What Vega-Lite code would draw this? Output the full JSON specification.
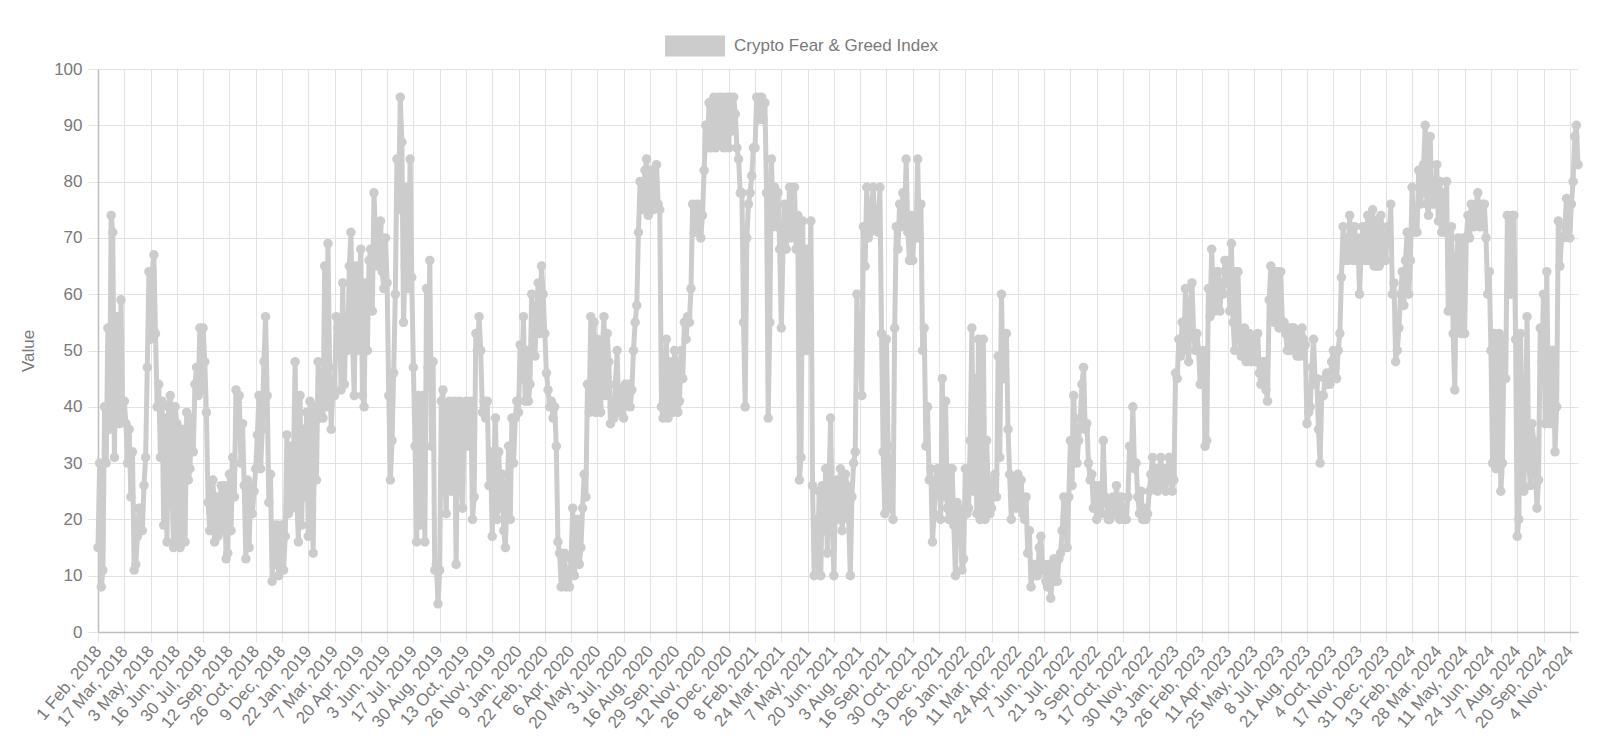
{"$schema":"https://vega.github.io/schema/vega-lite/v6.json","width":1480,"height":563,"autosize":{"type":"none"},"padding":{"left":98,"top":69,"right":21,"bottom":111},"background":"white","config":{"font":"Liberation Sans","view":{"stroke":null}},
"data":{"values":[
{"n":0,"v":15},{"n":1,"v":30},{"n":2,"v":8},{"n":3,"v":11},{"n":4,"v":40},{"n":5,"v":30},{"n":6,"v":54},{"n":7,"v":36},{"n":8,"v":74},{"n":9,"v":71},{"n":10,"v":31},{"n":11,"v":55},{"n":12,"v":56},{"n":13,"v":37},{"n":14,"v":59},{"n":15,"v":38},
{"n":16,"v":41},{"n":17,"v":37},{"n":18,"v":30},{"n":19,"v":36},{"n":20,"v":24},{"n":21,"v":32},{"n":22,"v":11},{"n":23,"v":12},{"n":24,"v":17},{"n":25,"v":22},{"n":26,"v":22},{"n":27,"v":18},{"n":28,"v":26},{"n":29,"v":31},{"n":30,"v":47},{"n":31,"v":64},
{"n":32,"v":52},{"n":33,"v":64},{"n":34,"v":67},{"n":35,"v":53},{"n":36,"v":40},{"n":37,"v":44},{"n":38,"v":31},{"n":39,"v":41},{"n":40,"v":19},{"n":41,"v":38},{"n":42,"v":16},{"n":43,"v":40},{"n":44,"v":42},{"n":45,"v":26},{"n":46,"v":15},{"n":47,"v":40},
{"n":48,"v":37},{"n":49,"v":16},{"n":50,"v":15},{"n":51,"v":36},{"n":52,"v":28},{"n":53,"v":16},{"n":54,"v":39},{"n":55,"v":27},{"n":56,"v":29},{"n":57,"v":38},{"n":58,"v":32},{"n":59,"v":44},{"n":60,"v":47},{"n":61,"v":42},{"n":62,"v":54},{"n":63,"v":43},
{"n":64,"v":54},{"n":65,"v":48},{"n":66,"v":39},{"n":67,"v":23},{"n":68,"v":18},{"n":69,"v":25},{"n":70,"v":27},{"n":71,"v":16},{"n":72,"v":24},{"n":73,"v":17},{"n":74,"v":22},{"n":75,"v":26},{"n":76,"v":18},{"n":77,"v":26},{"n":78,"v":13},{"n":79,"v":14},
{"n":80,"v":28},{"n":81,"v":18},{"n":82,"v":31},{"n":83,"v":24},{"n":84,"v":43},{"n":85,"v":35},{"n":86,"v":42},{"n":87,"v":30},{"n":88,"v":37},{"n":89,"v":26},{"n":90,"v":13},{"n":91,"v":27},{"n":92,"v":15},{"n":93,"v":26},{"n":94,"v":21},{"n":95,"v":25},
{"n":96,"v":29},{"n":97,"v":35},{"n":98,"v":42},{"n":99,"v":29},{"n":100,"v":36},{"n":101,"v":48},{"n":102,"v":56},{"n":103,"v":42},{"n":104,"v":23},{"n":105,"v":28},{"n":106,"v":9},{"n":107,"v":19},{"n":108,"v":12},{"n":109,"v":19},{"n":110,"v":10},{"n":111,"v":18},
{"n":112,"v":19},{"n":113,"v":11},{"n":114,"v":17},{"n":115,"v":35},{"n":116,"v":21},{"n":117,"v":33},{"n":118,"v":22},{"n":119,"v":30},{"n":120,"v":48},{"n":121,"v":24},{"n":122,"v":16},{"n":123,"v":42},{"n":124,"v":19},{"n":125,"v":36},{"n":126,"v":24},{"n":127,"v":39},
{"n":128,"v":17},{"n":129,"v":41},{"n":130,"v":30},{"n":131,"v":14},{"n":132,"v":40},{"n":133,"v":27},{"n":134,"v":48},{"n":135,"v":38},{"n":136,"v":46},{"n":137,"v":38},{"n":138,"v":65},{"n":139,"v":40},{"n":140,"v":69},{"n":141,"v":47},{"n":142,"v":36},{"n":143,"v":44},
{"n":144,"v":42},{"n":145,"v":56},{"n":146,"v":54},{"n":147,"v":55},{"n":148,"v":43},{"n":149,"v":62},{"n":150,"v":44},{"n":151,"v":56},{"n":152,"v":50},{"n":153,"v":65},{"n":154,"v":71},{"n":155,"v":51},{"n":156,"v":42},{"n":157,"v":65},{"n":158,"v":50},{"n":159,"v":62},
{"n":160,"v":68},{"n":161,"v":42},{"n":162,"v":40},{"n":163,"v":62},{"n":164,"v":50},{"n":165,"v":66},{"n":166,"v":68},{"n":167,"v":57},{"n":168,"v":78},{"n":169,"v":70},{"n":170,"v":65},{"n":171,"v":72},{"n":172,"v":73},{"n":173,"v":64},{"n":174,"v":61},{"n":175,"v":70},
{"n":176,"v":62},{"n":177,"v":42},{"n":178,"v":27},{"n":179,"v":34},{"n":180,"v":46},{"n":181,"v":60},{"n":182,"v":84},{"n":183,"v":75},{"n":184,"v":95},{"n":185,"v":87},{"n":186,"v":55},{"n":187,"v":65},{"n":188,"v":79},{"n":189,"v":61},{"n":190,"v":84},{"n":191,"v":63},
{"n":192,"v":47},{"n":193,"v":33},{"n":194,"v":16},{"n":195,"v":42},{"n":196,"v":19},{"n":197,"v":22},{"n":198,"v":42},{"n":199,"v":16},{"n":200,"v":61},{"n":201,"v":47},{"n":202,"v":66},{"n":203,"v":33},{"n":204,"v":48},{"n":205,"v":11},{"n":206,"v":12},{"n":207,"v":5},
{"n":208,"v":11},{"n":209,"v":41},{"n":210,"v":43},{"n":211,"v":28},{"n":212,"v":21},{"n":213,"v":40},{"n":214,"v":41},{"n":215,"v":25},{"n":216,"v":30},{"n":217,"v":41},{"n":218,"v":12},{"n":219,"v":36},{"n":220,"v":41},{"n":221,"v":27},{"n":222,"v":22},{"n":223,"v":40},
{"n":224,"v":41},{"n":225,"v":33},{"n":226,"v":35},{"n":227,"v":41},{"n":228,"v":20},{"n":229,"v":24},{"n":230,"v":53},{"n":231,"v":50},{"n":232,"v":56},{"n":233,"v":50},{"n":234,"v":39},{"n":235,"v":41},{"n":236,"v":38},{"n":237,"v":41},{"n":238,"v":26},{"n":239,"v":32},
{"n":240,"v":17},{"n":241,"v":30},{"n":242,"v":38},{"n":243,"v":20},{"n":244,"v":32},{"n":245,"v":22},{"n":246,"v":28},{"n":247,"v":18},{"n":248,"v":15},{"n":249,"v":25},{"n":250,"v":33},{"n":251,"v":20},{"n":252,"v":38},{"n":253,"v":30},{"n":254,"v":38},{"n":255,"v":41},
{"n":256,"v":39},{"n":257,"v":51},{"n":258,"v":45},{"n":259,"v":56},{"n":260,"v":41},{"n":261,"v":50},{"n":262,"v":41},{"n":263,"v":44},{"n":264,"v":60},{"n":265,"v":52},{"n":266,"v":49},{"n":267,"v":57},{"n":268,"v":62},{"n":269,"v":53},{"n":270,"v":65},{"n":271,"v":60},
{"n":272,"v":53},{"n":273,"v":46},{"n":274,"v":43},{"n":275,"v":40},{"n":276,"v":41},{"n":277,"v":38},{"n":278,"v":40},{"n":279,"v":33},{"n":280,"v":16},{"n":281,"v":14},{"n":282,"v":8},{"n":283,"v":13},{"n":284,"v":14},{"n":285,"v":8},{"n":286,"v":11},{"n":287,"v":8},
{"n":288,"v":13},{"n":289,"v":22},{"n":290,"v":10},{"n":291,"v":14},{"n":292,"v":20},{"n":293,"v":12},{"n":294,"v":15},{"n":295,"v":22},{"n":296,"v":28},{"n":297,"v":24},{"n":298,"v":44},{"n":299,"v":39},{"n":300,"v":56},{"n":301,"v":40},{"n":302,"v":55},{"n":303,"v":39},
{"n":304,"v":52},{"n":305,"v":40},{"n":306,"v":39},{"n":307,"v":50},{"n":308,"v":56},{"n":309,"v":42},{"n":310,"v":53},{"n":311,"v":48},{"n":312,"v":37},{"n":313,"v":40},{"n":314,"v":38},{"n":315,"v":44},{"n":316,"v":50},{"n":317,"v":39},{"n":318,"v":43},{"n":319,"v":40},
{"n":320,"v":38},{"n":321,"v":44},{"n":322,"v":41},{"n":323,"v":44},{"n":324,"v":40},{"n":325,"v":43},{"n":326,"v":50},{"n":327,"v":55},{"n":328,"v":58},{"n":329,"v":71},{"n":330,"v":80},{"n":331,"v":75},{"n":332,"v":76},{"n":333,"v":82},{"n":334,"v":84},{"n":335,"v":74},
{"n":336,"v":78},{"n":337,"v":82},{"n":338,"v":75},{"n":339,"v":80},{"n":340,"v":83},{"n":341,"v":76},{"n":342,"v":75},{"n":343,"v":40},{"n":344,"v":38},{"n":345,"v":41},{"n":346,"v":52},{"n":347,"v":38},{"n":348,"v":48},{"n":349,"v":40},{"n":350,"v":39},{"n":351,"v":50},
{"n":352,"v":48},{"n":353,"v":39},{"n":354,"v":41},{"n":355,"v":50},{"n":356,"v":45},{"n":357,"v":55},{"n":358,"v":52},{"n":359,"v":56},{"n":360,"v":55},{"n":361,"v":61},{"n":362,"v":76},{"n":363,"v":71},{"n":364,"v":72},{"n":365,"v":76},{"n":366,"v":75},{"n":367,"v":70},
{"n":368,"v":74},{"n":369,"v":82},{"n":370,"v":90},{"n":371,"v":86},{"n":372,"v":94},{"n":373,"v":86},{"n":374,"v":88},{"n":375,"v":95},{"n":376,"v":86},{"n":377,"v":90},{"n":378,"v":95},{"n":379,"v":87},{"n":380,"v":95},{"n":381,"v":86},{"n":382,"v":88},{"n":383,"v":95},
{"n":384,"v":86},{"n":385,"v":95},{"n":386,"v":89},{"n":387,"v":95},{"n":388,"v":92},{"n":389,"v":86},{"n":390,"v":84},{"n":391,"v":78},{"n":392,"v":78},{"n":393,"v":55},{"n":394,"v":40},{"n":395,"v":70},{"n":396,"v":76},{"n":397,"v":78},{"n":398,"v":81},{"n":399,"v":86},
{"n":400,"v":86},{"n":401,"v":95},{"n":402,"v":91},{"n":403,"v":95},{"n":404,"v":95},{"n":405,"v":91},{"n":406,"v":94},{"n":407,"v":78},{"n":408,"v":38},{"n":409,"v":55},{"n":410,"v":84},{"n":411,"v":72},{"n":412,"v":79},{"n":413,"v":72},{"n":414,"v":78},{"n":415,"v":68},
{"n":416,"v":54},{"n":417,"v":68},{"n":418,"v":76},{"n":419,"v":68},{"n":420,"v":72},{"n":421,"v":79},{"n":422,"v":70},{"n":423,"v":74},{"n":424,"v":79},{"n":425,"v":68},{"n":426,"v":74},{"n":427,"v":27},{"n":428,"v":31},{"n":429,"v":73},{"n":430,"v":50},{"n":431,"v":68},
{"n":432,"v":50},{"n":433,"v":61},{"n":434,"v":73},{"n":435,"v":26},{"n":436,"v":10},{"n":437,"v":20},{"n":438,"v":11},{"n":439,"v":25},{"n":440,"v":10},{"n":441,"v":26},{"n":442,"v":18},{"n":443,"v":29},{"n":444,"v":14},{"n":445,"v":26},{"n":446,"v":38},{"n":447,"v":20},
{"n":448,"v":10},{"n":449,"v":25},{"n":450,"v":27},{"n":451,"v":20},{"n":452,"v":29},{"n":453,"v":18},{"n":454,"v":22},{"n":455,"v":28},{"n":456,"v":26},{"n":457,"v":20},{"n":458,"v":10},{"n":459,"v":24},{"n":460,"v":30},{"n":461,"v":32},{"n":462,"v":60},{"n":463,"v":50},
{"n":464,"v":50},{"n":465,"v":42},{"n":466,"v":72},{"n":467,"v":65},{"n":468,"v":79},{"n":469,"v":70},{"n":470,"v":71},{"n":471,"v":76},{"n":472,"v":79},{"n":473,"v":72},{"n":474,"v":75},{"n":475,"v":71},{"n":476,"v":79},{"n":477,"v":53},{"n":478,"v":32},{"n":479,"v":21},
{"n":480,"v":52},{"n":481,"v":33},{"n":482,"v":22},{"n":483,"v":30},{"n":484,"v":20},{"n":485,"v":54},{"n":486,"v":72},{"n":487,"v":68},{"n":488,"v":76},{"n":489,"v":72},{"n":490,"v":78},{"n":491,"v":73},{"n":492,"v":84},{"n":493,"v":71},{"n":494,"v":66},{"n":495,"v":74},
{"n":496,"v":66},{"n":497,"v":72},{"n":498,"v":70},{"n":499,"v":84},{"n":500,"v":70},{"n":501,"v":76},{"n":502,"v":50},{"n":503,"v":54},{"n":504,"v":33},{"n":505,"v":40},{"n":506,"v":27},{"n":507,"v":29},{"n":508,"v":16},{"n":509,"v":21},{"n":510,"v":27},{"n":511,"v":29},
{"n":512,"v":29},{"n":513,"v":20},{"n":514,"v":45},{"n":515,"v":24},{"n":516,"v":41},{"n":517,"v":22},{"n":518,"v":20},{"n":519,"v":29},{"n":520,"v":29},{"n":521,"v":19},{"n":522,"v":10},{"n":523,"v":23},{"n":524,"v":22},{"n":525,"v":20},{"n":526,"v":11},{"n":527,"v":13},
{"n":528,"v":29},{"n":529,"v":21},{"n":530,"v":22},{"n":531,"v":34},{"n":532,"v":54},{"n":533,"v":25},{"n":534,"v":45},{"n":535,"v":21},{"n":536,"v":52},{"n":537,"v":20},{"n":538,"v":25},{"n":539,"v":52},{"n":540,"v":20},{"n":541,"v":34},{"n":542,"v":25},{"n":543,"v":21},
{"n":544,"v":22},{"n":545,"v":27},{"n":546,"v":28},{"n":547,"v":24},{"n":548,"v":49},{"n":549,"v":31},{"n":550,"v":60},{"n":551,"v":45},{"n":552,"v":50},{"n":553,"v":53},{"n":554,"v":36},{"n":555,"v":28},{"n":556,"v":20},{"n":557,"v":25},{"n":558,"v":27},{"n":559,"v":22},
{"n":560,"v":28},{"n":561,"v":23},{"n":562,"v":27},{"n":563,"v":21},{"n":564,"v":20},{"n":565,"v":24},{"n":566,"v":14},{"n":567,"v":18},{"n":568,"v":8},{"n":569,"v":12},{"n":570,"v":12},{"n":571,"v":10},{"n":572,"v":10},{"n":573,"v":15},{"n":574,"v":17},{"n":575,"v":11},
{"n":576,"v":12},{"n":577,"v":9},{"n":578,"v":8},{"n":579,"v":12},{"n":580,"v":6},{"n":581,"v":10},{"n":582,"v":13},{"n":583,"v":9},{"n":584,"v":9},{"n":585,"v":13},{"n":586,"v":14},{"n":587,"v":18},{"n":588,"v":24},{"n":589,"v":20},{"n":590,"v":15},{"n":591,"v":24},
{"n":592,"v":34},{"n":593,"v":26},{"n":594,"v":42},{"n":595,"v":33},{"n":596,"v":30},{"n":597,"v":34},{"n":598,"v":38},{"n":599,"v":44},{"n":600,"v":47},{"n":601,"v":36},{"n":602,"v":37},{"n":603,"v":30},{"n":604,"v":27},{"n":605,"v":28},{"n":606,"v":22},{"n":607,"v":26},
{"n":608,"v":20},{"n":609,"v":24},{"n":610,"v":26},{"n":611,"v":21},{"n":612,"v":34},{"n":613,"v":24},{"n":614,"v":23},{"n":615,"v":20},{"n":616,"v":20},{"n":617,"v":22},{"n":618,"v":24},{"n":619,"v":21},{"n":620,"v":26},{"n":621,"v":22},{"n":622,"v":20},{"n":623,"v":24},
{"n":624,"v":22},{"n":625,"v":20},{"n":626,"v":20},{"n":627,"v":24},{"n":628,"v":33},{"n":629,"v":30},{"n":630,"v":40},{"n":631,"v":29},{"n":632,"v":30},{"n":633,"v":24},{"n":634,"v":21},{"n":635,"v":25},{"n":636,"v":20},{"n":637,"v":22},{"n":638,"v":20},{"n":639,"v":21},
{"n":640,"v":25},{"n":641,"v":28},{"n":642,"v":31},{"n":643,"v":26},{"n":644,"v":29},{"n":645,"v":25},{"n":646,"v":28},{"n":647,"v":31},{"n":648,"v":26},{"n":649,"v":29},{"n":650,"v":25},{"n":651,"v":27},{"n":652,"v":31},{"n":653,"v":28},{"n":654,"v":25},{"n":655,"v":27},
{"n":656,"v":46},{"n":657,"v":45},{"n":658,"v":52},{"n":659,"v":49},{"n":660,"v":55},{"n":661,"v":50},{"n":662,"v":61},{"n":663,"v":52},{"n":664,"v":48},{"n":665,"v":58},{"n":666,"v":62},{"n":667,"v":53},{"n":668,"v":50},{"n":669,"v":53},{"n":670,"v":50},{"n":671,"v":44},
{"n":672,"v":48},{"n":673,"v":50},{"n":674,"v":33},{"n":675,"v":34},{"n":676,"v":61},{"n":677,"v":56},{"n":678,"v":68},{"n":679,"v":59},{"n":680,"v":57},{"n":681,"v":64},{"n":682,"v":64},{"n":683,"v":57},{"n":684,"v":62},{"n":685,"v":60},{"n":686,"v":66},{"n":687,"v":62},
{"n":688,"v":66},{"n":689,"v":57},{"n":690,"v":69},{"n":691,"v":55},{"n":692,"v":50},{"n":693,"v":64},{"n":694,"v":64},{"n":695,"v":52},{"n":696,"v":49},{"n":697,"v":53},{"n":698,"v":54},{"n":699,"v":48},{"n":700,"v":50},{"n":701,"v":53},{"n":702,"v":48},{"n":703,"v":52},
{"n":704,"v":52},{"n":705,"v":48},{"n":706,"v":53},{"n":707,"v":46},{"n":708,"v":44},{"n":709,"v":48},{"n":710,"v":48},{"n":711,"v":43},{"n":712,"v":41},{"n":713,"v":59},{"n":714,"v":65},{"n":715,"v":56},{"n":716,"v":55},{"n":717,"v":64},{"n":718,"v":64},{"n":719,"v":54},
{"n":720,"v":64},{"n":721,"v":55},{"n":722,"v":55},{"n":723,"v":53},{"n":724,"v":50},{"n":725,"v":54},{"n":726,"v":50},{"n":727,"v":54},{"n":728,"v":54},{"n":729,"v":50},{"n":730,"v":49},{"n":731,"v":53},{"n":732,"v":49},{"n":733,"v":54},{"n":734,"v":52},{"n":735,"v":51},
{"n":736,"v":37},{"n":737,"v":39},{"n":738,"v":40},{"n":739,"v":47},{"n":740,"v":52},{"n":741,"v":44},{"n":742,"v":45},{"n":743,"v":36},{"n":744,"v":30},{"n":745,"v":42},{"n":746,"v":42},{"n":747,"v":45},{"n":748,"v":46},{"n":749,"v":44},{"n":750,"v":44},{"n":751,"v":48},
{"n":752,"v":50},{"n":753,"v":47},{"n":754,"v":45},{"n":755,"v":50},{"n":756,"v":53},{"n":757,"v":63},{"n":758,"v":72},{"n":759,"v":66},{"n":760,"v":70},{"n":761,"v":66},{"n":762,"v":74},{"n":763,"v":67},{"n":764,"v":66},{"n":765,"v":72},{"n":766,"v":66},{"n":767,"v":70},
{"n":768,"v":60},{"n":769,"v":68},{"n":770,"v":72},{"n":771,"v":66},{"n":772,"v":66},{"n":773,"v":74},{"n":774,"v":66},{"n":775,"v":70},{"n":776,"v":75},{"n":777,"v":65},{"n":778,"v":73},{"n":779,"v":65},{"n":780,"v":65},{"n":781,"v":74},{"n":782,"v":70},{"n":783,"v":66},
{"n":784,"v":66},{"n":785,"v":72},{"n":786,"v":70},{"n":787,"v":76},{"n":788,"v":60},{"n":789,"v":62},{"n":790,"v":48},{"n":791,"v":50},{"n":792,"v":54},{"n":793,"v":60},{"n":794,"v":64},{"n":795,"v":58},{"n":796,"v":66},{"n":797,"v":71},{"n":798,"v":60},{"n":799,"v":66},
{"n":800,"v":79},{"n":801,"v":71},{"n":802,"v":74},{"n":803,"v":71},{"n":804,"v":82},{"n":805,"v":76},{"n":806,"v":78},{"n":807,"v":83},{"n":808,"v":90},{"n":809,"v":76},{"n":810,"v":74},{"n":811,"v":88},{"n":812,"v":76},{"n":813,"v":80},{"n":814,"v":76},{"n":815,"v":83},
{"n":816,"v":73},{"n":817,"v":80},{"n":818,"v":71},{"n":819,"v":78},{"n":820,"v":71},{"n":821,"v":80},{"n":822,"v":57},{"n":823,"v":65},{"n":824,"v":72},{"n":825,"v":53},{"n":826,"v":43},{"n":827,"v":66},{"n":828,"v":70},{"n":829,"v":55},{"n":830,"v":53},{"n":831,"v":70},
{"n":832,"v":53},{"n":833,"v":70},{"n":834,"v":74},{"n":835,"v":70},{"n":836,"v":76},{"n":837,"v":72},{"n":838,"v":72},{"n":839,"v":76},{"n":840,"v":78},{"n":841,"v":72},{"n":842,"v":72},{"n":843,"v":76},{"n":844,"v":76},{"n":845,"v":70},{"n":846,"v":60},{"n":847,"v":64},
{"n":848,"v":50},{"n":849,"v":30},{"n":850,"v":53},{"n":851,"v":29},{"n":852,"v":30},{"n":853,"v":53},{"n":854,"v":25},{"n":855,"v":30},{"n":856,"v":52},{"n":857,"v":45},{"n":858,"v":74},{"n":859,"v":60},{"n":860,"v":60},{"n":861,"v":74},{"n":862,"v":74},{"n":863,"v":52},
{"n":864,"v":17},{"n":865,"v":20},{"n":866,"v":53},{"n":867,"v":30},{"n":868,"v":25},{"n":869,"v":39},{"n":870,"v":56},{"n":871,"v":30},{"n":872,"v":26},{"n":873,"v":37},{"n":874,"v":34},{"n":875,"v":29},{"n":876,"v":22},{"n":877,"v":27},{"n":878,"v":54},{"n":879,"v":48},
{"n":880,"v":60},{"n":881,"v":37},{"n":882,"v":64},{"n":883,"v":40},{"n":884,"v":37},{"n":885,"v":50},{"n":886,"v":50},{"n":887,"v":32},{"n":888,"v":40},{"n":889,"v":73},{"n":890,"v":65},{"n":891,"v":70},{"n":892,"v":70},{"n":893,"v":72},{"n":894,"v":77},{"n":895,"v":72},
{"n":896,"v":70},{"n":897,"v":76},{"n":898,"v":80},{"n":899,"v":88},{"n":900,"v":90},{"n":901,"v":83}
]},
"encoding":{"x":{"field":"n","type":"quantitative","scale":{"domain":[0,901],"nice":false,"zero":false},"axis":{"title":null,"values":[0,16,32,48,64,80,96,112,128,144,160,176,192,208,224,240,256,272,288,304,320,336,352,368,384,400,416,432,448,464,480,496,512,528,544,560,576,592,608,624,640,656,672,688,704,720,736,752,768,784,800,816,832,848,864,880,896],"labelExpr":"['1 Feb, 2018','17 Mar, 2018','3 May, 2018','16 Jun, 2018','30 Jul, 2018','12 Sep, 2018','26 Oct, 2018','9 Dec, 2018','22 Jan, 2019','7 Mar, 2019','20 Apr, 2019','3 Jun, 2019','17 Jul, 2019','30 Aug, 2019','13 Oct, 2019','26 Nov, 2019','9 Jan, 2020','22 Feb, 2020','6 Apr, 2020','20 May, 2020','3 Jul, 2020','16 Aug, 2020','29 Sep, 2020','12 Nov, 2020','26 Dec, 2020','8 Feb, 2021','24 Mar, 2021','7 May, 2021','20 Jun, 2021','3 Aug, 2021','16 Sep, 2021','30 Oct, 2021','13 Dec, 2021','26 Jan, 2022','11 Mar, 2022','24 Apr, 2022','7 Jun, 2022','21 Jul, 2022','3 Sep, 2022','17 Oct, 2022','30 Nov, 2022','13 Jan, 2023','26 Feb, 2023','11 Apr, 2023','25 May, 2023','8 Jul, 2023','21 Aug, 2023','4 Oct, 2023','17 Nov, 2023','31 Dec, 2023','13 Feb, 2024','28 Mar, 2024','11 May, 2024','24 Jun, 2024','7 Aug, 2024','20 Sep, 2024','4 Nov, 2024'][round(datum.value/16)]","labelAngle":-50,"labelAlign":"right","labelBaseline":"middle","labelFontSize":17,"labelColor":"#7a7a7a","labelOverlap":false,"labelPadding":6,"labelBound":false,"labelFlush":false,"tickSize":10,"tickColor":"#e5e5e5","gridColor":"#e2e2e2","domainColor":"#bdbdbd","domainWidth":1.5}},
"y":{"field":"v","type":"quantitative","scale":{"domain":[0,100],"nice":false},"axis":{"title":"Value","titleFontSize":17,"titleFontWeight":"normal","titleColor":"#7a7a7a","titlePadding":16,"values":[0,10,20,30,40,50,60,70,80,90,100],"labelFontSize":17,"labelColor":"#7a7a7a","labelPadding":6,"tickSize":10,"tickColor":"#e5e5e5","gridColor":"#e2e2e2","domainColor":"#bdbdbd","domainWidth":1.5}}},
"layer":[
{"mark":{"type":"line","color":"#cccccc","strokeWidth":5,"interpolate":"linear"}},
{"mark":{"type":"point","filled":true,"size":90,"opacity":1},"encoding":{"color":{"datum":"Crypto Fear & Greed Index","scale":{"range":["#cccccc"]},"legend":{"title":null,"orient":"none","legendX":566,"legendY":-54,"symbolType":"M-1,-0.35H1V0.35H-1Z","symbolSize":3600,"symbolOpacity":1,"labelFontSize":17,"labelColor":"#7a7a7a","labelLimit":400,"labelOffset":8}}}}
]}
